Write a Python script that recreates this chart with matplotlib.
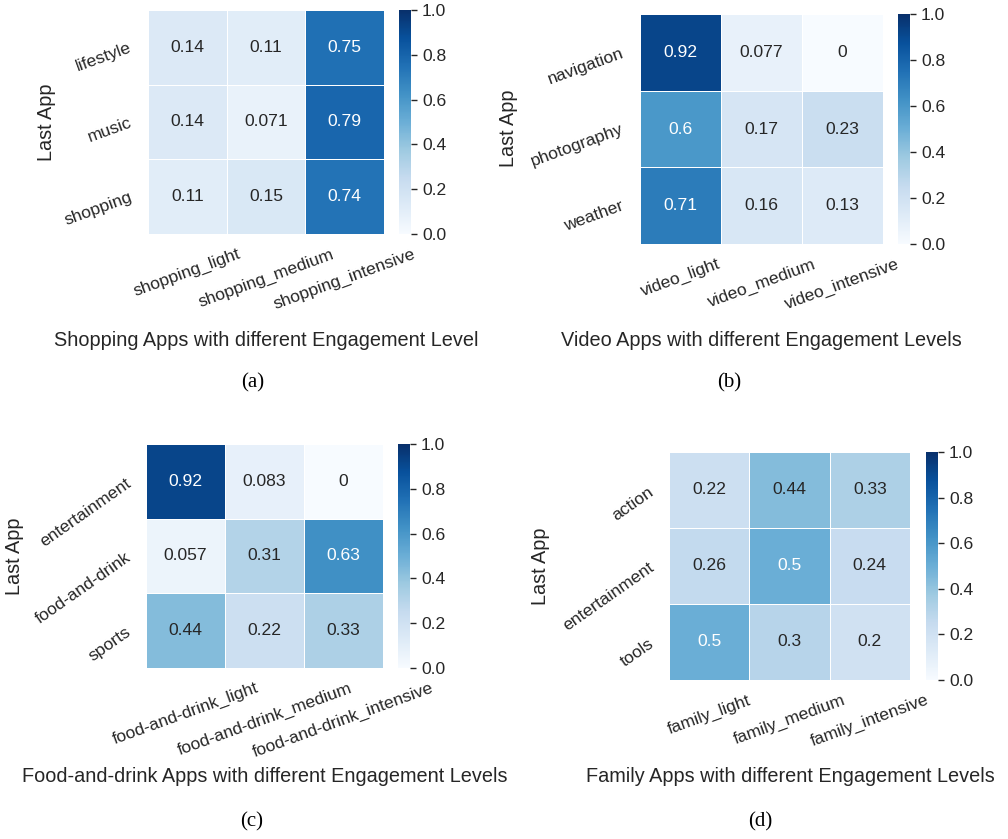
import matplotlib
matplotlib.use('Agg')
import matplotlib.pyplot as plt
import seaborn as sns
import pandas as pd

W, H, DPI = 1008, 839, 100
DARK = '#262626'

# ---------------- data ----------------
shop_rows = ['lifestyle', 'music', 'shopping']
shop_cols = ['shopping_light', 'shopping_medium', 'shopping_intensive']
shop_vals = [[0.14, 0.11, 0.75],
             [0.14, 0.071, 0.79],
             [0.11, 0.15, 0.74]]

video_rows = ['navigation', 'photography', 'weather']
video_cols = ['video_light', 'video_medium', 'video_intensive']
video_vals = [[0.92, 0.077, 0],
              [0.6, 0.17, 0.23],
              [0.71, 0.16, 0.13]]

food_rows = ['entertainment', 'food-and-drink', 'sports']
food_cols = ['food-and-drink_light', 'food-and-drink_medium', 'food-and-drink_intensive']
food_vals = [[0.92, 0.083, 0],
             [0.057, 0.31, 0.63],
             [0.44, 0.22, 0.33]]

family_rows = ['action', 'entertainment', 'tools']
family_cols = ['family_light', 'family_medium', 'family_intensive']
family_vals = [[0.22, 0.44, 0.33],
               [0.26, 0.5, 0.24],
               [0.5, 0.3, 0.2]]

xlabels = ['Shopping Apps with different Engagement Level',
           'Video Apps with different Engagement Levels',
           'Food-and-drink Apps with different Engagement Levels',
           'Family Apps with different Engagement Levels']
ylabel = 'Last App'
captions = ['(a)', '(b)', '(c)', '(d)']
cbar_ticks = [0.0, 0.2, 0.4, 0.6, 0.8, 1.0]

# ---------------- style ----------------
plt.rcParams['font.family'] = ['Liberation Sans', 'DejaVu Sans']
plt.rcParams['text.color'] = DARK
plt.rcParams['axes.labelcolor'] = DARK
plt.rcParams['xtick.color'] = DARK
plt.rcParams['ytick.color'] = DARK

fig = plt.figure(figsize=(W / DPI, H / DPI), dpi=DPI)


def box(l, t, r, b):
    return [l / W, 1 - b / H, (r - l) / W, (b - t) / H]


# layout in pixels: heat box, cbar box, xlabel center, ylabel center, caption center, ytick rotation
panels = [
    dict(rows=shop_rows, cols=shop_cols, vals=shop_vals,
         heat=(148, 10, 384, 234), cbar=(399, 10, 411, 234),
         xl=(266, 340), yl=(46, 122), cap=(253, 383), yrot=20),
    dict(rows=video_rows, cols=video_cols, vals=video_vals,
         heat=(640, 14, 883, 244), cbar=(898, 14, 910, 244),
         xl=(761, 340), yl=(509, 128), cap=(729, 383), yrot=20),
    dict(rows=food_rows, cols=food_cols, vals=food_vals,
         heat=(146, 444, 383, 668), cbar=(398, 444, 410, 668),
         xl=(265, 777), yl=(14, 556), cap=(252, 822), yrot=35),
    dict(rows=family_rows, cols=family_cols, vals=family_vals,
         heat=(669, 452, 910, 680), cbar=(926, 452, 938, 680),
         xl=(790, 777), yl=(540, 566), cap=(760, 822), yrot=35),
]

FS = 12.6
LFS = 14.35

for i, p in enumerate(panels):
    l, t, r, b = p['heat']
    ax = fig.add_axes(box(*p['heat']))
    cax = fig.add_axes(box(*p['cbar']))
    df = pd.DataFrame(p['vals'], index=p['rows'], columns=p['cols'])
    sns.heatmap(df, ax=ax, cbar_ax=cax, cmap='Blues', vmin=0, vmax=1,
                annot=True, linewidths=0.7, linecolor='white',
                annot_kws={'size': FS})
    ax.tick_params(axis='both', length=0, labelsize=FS)
    ax.tick_params(axis='x', pad=9)
    ax.tick_params(axis='y', pad=12)
    plt.setp(ax.get_xticklabels(), rotation=20)
    plt.setp(ax.get_yticklabels(), rotation=p['yrot'], ha='right', va='center',
             rotation_mode='anchor')

    ax.set_xlabel(xlabels[i], fontsize=LFS)
    ax.set_ylabel(ylabel, fontsize=LFS)
    xx, xy = p['xl']
    ax.xaxis.set_label_coords((xx - l) / (r - l), (b - xy) / (b - t))
    ax.xaxis.label.set_va('center')
    yx, yy = p['yl']
    ax.yaxis.set_label_coords((yx - l) / (r - l), (b - yy) / (b - t))
    ax.yaxis.label.set_va('center')
    ax.yaxis.label.set_ha('center')
    ax.yaxis.label.set_rotation_mode('default')

    cax.tick_params(labelsize=FS, length=4.5, width=1, color=DARK, pad=3.5)
    cax.set_yticks(cbar_ticks)
    cax.set_yticklabels([f'{v:.1f}' for v in cbar_ticks])

    cx, cy = p['cap']
    fig.text(cx / W, 1 - cy / H, captions[i], ha='center', va='center',
             fontsize=15, family=['Liberation Serif', 'DejaVu Serif'], color='black')

fig.savefig('out.png', dpi=DPI)
